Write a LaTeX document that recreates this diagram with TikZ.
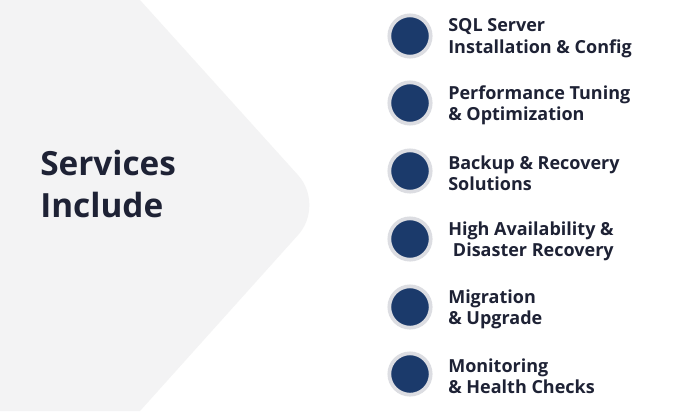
\documentclass[tikz,border=0pt]{standalone}
\usepackage{fontspec}
\setmainfont{Open Sans}
\begin{document}
\begin{tikzpicture}[x=0.75pt,y=-0.75pt,
  item/.style={anchor=west,align=left,font=\fontsize{13.5}{16}\selectfont\bfseries,text=navytext,inner sep=0pt},
  dot/.style={circle,fill=navy,draw=ringc,line width=2.8pt,minimum size=31pt,inner sep=0pt}]
\definecolor{navy}{HTML}{1B3A6B}
\definecolor{ringc}{HTML}{DCDDE2}
\definecolor{navytext}{HTML}{1E2235}
\definecolor{bgshape}{HTML}{F3F3F4}
\useasboundingbox (0,0) rectangle (680,411);
\fill[white] (0,0) rectangle (680,411);
\fill[bgshape] (0,0) -- (140,0) [rounded corners=30pt] -- (325,205) [sharp corners] -- (140,411) -- (0,411) -- cycle;
\node[anchor=west,align=left,font=\fontsize{25}{31}\selectfont\bfseries,text=navytext,inner sep=0pt] (title) at (40,184) {Services\\Include};
\foreach \y/\t [count=\i] in {36/{SQL Server\\Installation \& Config},
  103/{Performance Tuning\\\& Optimization},
  171/{Backup \& Recovery\\Solutions},
  239/{High Availability \&\\\ Disaster Recovery},
  307/{Migration\\\& Upgrade},
  374/{Monitoring\\\& Health Checks}}{
  \node[dot] (d\i) at (410,\y) {};
  \node[item] (t\i) at (448,\y+2) {\t};
}
\end{tikzpicture}
\end{document}
